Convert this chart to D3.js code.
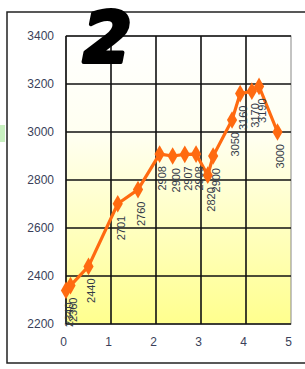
<!DOCTYPE html>
<html><head><meta charset="utf-8">
<script src="https://cdn.jsdelivr.net/npm/d3@7"></script>
<style>body{margin:0;background:#fff}svg{display:block}</style>
</head><body>
<script>
const xValues = [0, 0.1, 0.5, 1.15, 1.6, 2.08, 2.37, 2.64, 2.89, 3.15, 3.27, 3.69, 3.87, 4.13, 4.29, 4.7];
const yValues = [2340, 2360, 2440, 2701, 2760, 2908, 2900, 2907, 2908, 2820, 2900, 3050, 3160, 3170, 3190, 3000];
const xTicks = [0, 1, 2, 3, 4, 5];
const yTicks = [2200, 2400, 2600, 2800, 3000, 3200, 3400];
const titleText = "2";

const W = 305, H = 369;
const svg = d3.select("body").append("svg").attr("width", W).attr("height", H);

// outer frame
svg.append("path").attr("d", `M${W+2},12 H7 V363 H${W+2}`)
  .attr("fill", "none").attr("stroke", "#222").attr("stroke-width", 1.5);
// little green mark on left
svg.append("rect").attr("x", 0).attr("y", 125).attr("width", 5).attr("height", 17).attr("fill", "#c8f0c0");

const x = d3.scaleLinear().domain([0, 5]).range([66, 291]);
const y = d3.scaleLinear().domain([2200, 3400]).range([324, 36]);

const defs = svg.append("defs");
const grad = defs.append("linearGradient").attr("id", "bg").attr("x1", 0).attr("y1", 0).attr("x2", 0).attr("y2", 1);
grad.append("stop").attr("offset", "0%").attr("stop-color", "#ffffff");
grad.append("stop").attr("offset", "35%").attr("stop-color", "#fffff0");
grad.append("stop").attr("offset", "100%").attr("stop-color", "#ffff8e");

svg.append("rect").attr("x", x(0)).attr("y", y(3400)).attr("width", x(5) - x(0)).attr("height", y(2200) - y(3400))
  .attr("fill", "url(#bg)").attr("stroke", "#888").attr("stroke-width", 1);

// gridlines
svg.append("g").selectAll("line").data(yTicks).join("line")
  .attr("x1", x(0)).attr("x2", x(5)).attr("y1", d => y(d)).attr("y2", d => y(d))
  .attr("stroke", "#111").attr("stroke-width", 1.6);
svg.append("g").selectAll("line").data(xTicks.filter(d => d < 5)).join("line")
  .attr("x1", d => x(d)).attr("x2", d => x(d)).attr("y1", y(3400)).attr("y2", y(2200))
  .attr("stroke", "#111").attr("stroke-width", 1.6);

// axes (labels only)
const yAxis = svg.append("g").attr("transform", `translate(${x(0)},0)`)
  .call(d3.axisLeft(y).tickValues(yTicks).tickSize(0).tickPadding(12).tickFormat(d3.format("d")));
yAxis.select(".domain").remove();
yAxis.selectAll("text").attr("font-family", "Liberation Sans, Arial, sans-serif").attr("font-size", 12).attr("fill", "#3a3f5a");

const xAxis = svg.append("g").attr("transform", `translate(0,${y(2200)})`)
  .call(d3.axisBottom(x).tickValues(xTicks).tickSize(0).tickPadding(13).tickFormat(d3.format("d")));
xAxis.select(".domain").remove();
xAxis.selectAll("text").attr("font-family", "Liberation Sans, Arial, sans-serif").attr("font-size", 12).attr("fill", "#3a3f5a")
  .attr("dx", -3);

const data = xValues.map((v, i) => ({x: v, y: yValues[i]}));

// line
svg.append("path").datum(data)
  .attr("d", d3.line().x(d => x(d.x)).y(d => y(d.y)))
  .attr("fill", "none").attr("stroke", "#ff6a10").attr("stroke-width", 3.2);

// markers
svg.append("g").selectAll("path").data(data).join("path")
  .attr("transform", d => `translate(${x(d.x)},${y(d.y)})`)
  .attr("d", d3.symbol(d3.symbolDiamond, 90))
  .attr("fill", "#ff6a10");

// data labels
svg.append("g").selectAll("text").data(data).join("text")
  .attr("transform", d => `translate(${x(d.x) + 3},${y(d.y) + 12}) rotate(-90)`)
  .attr("text-anchor", "end").attr("dy", "0.35em")
  .attr("font-family", "Liberation Sans, Arial, sans-serif").attr("font-size", 11)
  .attr("fill", "#333a48")
  .text(d => d.y);

// big title digit
svg.append("text").attr("x", 83).attr("y", 62)
  .attr("font-family", "DejaVu Sans, sans-serif").attr("font-weight", "bold").attr("font-style", "italic")
  .attr("font-size", 70).attr("fill", "#000").attr("stroke", "#000").attr("stroke-width", 4)
  .attr("stroke-linejoin", "round")
  .text(titleText);
</script>
</body></html>
